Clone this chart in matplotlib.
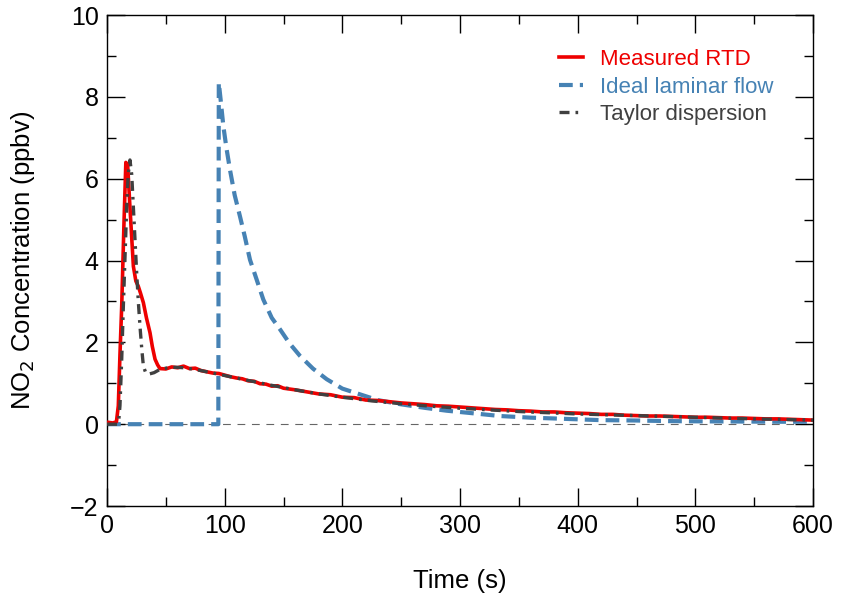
import matplotlib.pyplot as plt
from matplotlib.ticker import MultipleLocator

plt.rcParams['font.family'] = ['Liberation Sans', 'DejaVu Sans']

# Measured RTD (red)
t_meas = [0, 5, 8, 9.6, 11, 12.5, 14.4, 16, 17.5, 19.5, 22.4, 24.5, 26.6, 28.5, 30.9,
          33.5, 36.5, 38.5, 40.8, 43, 45, 50, 55, 60, 65, 70, 75, 80, 85, 90, 95,
          100, 105, 110, 115, 120, 125, 130, 135, 140, 145, 150, 160, 170, 180,
          190, 200, 210, 220, 230, 240, 250, 260, 270, 280, 290, 300, 310, 320,
          330, 340, 350, 360, 370, 380, 390, 400, 410, 420, 430, 440, 450, 460,
          470, 480, 490, 500, 510, 520, 530, 540, 550, 560, 570, 580, 590, 600]
c_meas = [0.05, 0.03, 0.06, 0.45, 1.7, 2.9, 4.9, 6.4, 6.35, 5.3, 3.86, 3.5, 3.37, 3.2, 2.97,
          2.6, 2.24, 1.9, 1.59, 1.45, 1.36, 1.35, 1.40, 1.38, 1.42, 1.36, 1.37, 1.31, 1.28, 1.25, 1.24,
          1.20, 1.16, 1.13, 1.11, 1.06, 1.05, 0.99, 0.98, 0.93, 0.94, 0.88, 0.84, 0.79, 0.74,
          0.72, 0.66, 0.65, 0.59, 0.58, 0.55, 0.52, 0.50, 0.48, 0.45, 0.44, 0.42, 0.40, 0.38,
          0.36, 0.35, 0.33, 0.32, 0.30, 0.30, 0.28, 0.27, 0.26, 0.24, 0.24, 0.22, 0.21, 0.20,
          0.20, 0.19, 0.18, 0.17, 0.17, 0.16, 0.15, 0.15, 0.14, 0.13, 0.13, 0.12, 0.11, 0.10]

# Ideal laminar flow (blue dashed)
t_lam = [0, 94.6, 95, 96.5, 98.9, 101.5, 104.5, 108.5, 113, 117, 121.5, 127, 132.8,
         140, 147, 155, 164, 175, 186.7, 200, 215, 230, 249, 270, 288.6, 310, 334,
         360, 390, 419, 450, 480, 504, 540, 570, 600]
c_lam = [0, 0, 8.35, 7.95, 7.28, 6.75, 6.22, 5.6, 5.08, 4.6, 4.02, 3.55, 3.05,
         2.6, 2.32, 1.98, 1.67, 1.36, 1.10, 0.87, 0.73, 0.59, 0.49, 0.40, 0.33, 0.27, 0.20,
         0.16, 0.13, 0.10, 0.09, 0.075, 0.07, 0.065, 0.06, 0.06]

# Taylor dispersion (dark dash-dot)
t_tay = [0, 8.5, 10, 11, 12.5, 13.9, 15.3, 16.7, 18, 19.5, 21, 22.4, 23.8, 25.2,
         26.6, 28, 29.5, 30.9, 33, 35, 40, 45, 50, 55, 60, 65, 70, 80, 90, 100,
         120, 140, 160, 180, 200, 225, 250, 275, 300, 350, 400, 450, 500, 550, 600]
c_tay = [0, 0, 0.1, 0.45, 1.6, 2.9, 4.1, 5.3, 6.1, 6.46, 6.1, 5.3, 4.5, 3.7,
         3.0, 2.4, 1.85, 1.42, 1.25, 1.22, 1.26, 1.34, 1.37, 1.39, 1.39, 1.38, 1.36, 1.31, 1.25, 1.19,
         1.07, 0.95, 0.84, 0.74, 0.66, 0.57, 0.50, 0.44, 0.39, 0.31, 0.25, 0.21, 0.17, 0.13, 0.10]

red = '#ee0000'
blue = '#4682b4'
dark = '#404040'

fig = plt.figure(figsize=(8.46, 6.06), dpi=100)
ax = fig.add_axes([0.1265, 0.165, 0.8345, 0.81])

ax.axhline(0, color='#666666', lw=0.8, dashes=(7, 6), zorder=1)
ax.plot(t_meas, c_meas, color=red, lw=2.6, label='Measured RTD', zorder=3)
ax.plot(t_lam, c_lam, color=blue, lw=3, dashes=(3.3, 1.7), label='Ideal laminar flow', zorder=2)
ax.plot(t_tay, c_tay, color=dark, lw=2.4, dashes=(3, 1.8, 0.8, 1.8), label='Taylor dispersion', zorder=4)

ax.set_xlim(0, 600)
ax.set_ylim(-2, 10)
ax.xaxis.set_major_locator(MultipleLocator(100))
ax.xaxis.set_minor_locator(MultipleLocator(50))
ax.yaxis.set_major_locator(MultipleLocator(2))
ax.yaxis.set_minor_locator(MultipleLocator(1))
ax.tick_params(which='both', direction='in', top=True, right=True, width=1.0)
ax.tick_params(which='major', length=13, labelsize=18, pad=6)
ax.tick_params(which='minor', length=6.5)
for s in ax.spines.values():
    s.set_linewidth(1.0)

ax.set_xlabel('Time (s)', fontsize=18.5, labelpad=22)
ax.set_ylabel('NO$_2$ Concentration (ppbv)', fontsize=18.5, labelpad=24)

leg = ax.legend(loc='upper right', frameon=False, fontsize=16, handlelength=1.1,
                handletextpad=0.75, bbox_to_anchor=(0.972, 0.972), labelspacing=0.3)
for line, text in zip(leg.get_lines(), leg.get_texts()):
    text.set_color(line.get_color())

fig.savefig('out.png', dpi=100)
